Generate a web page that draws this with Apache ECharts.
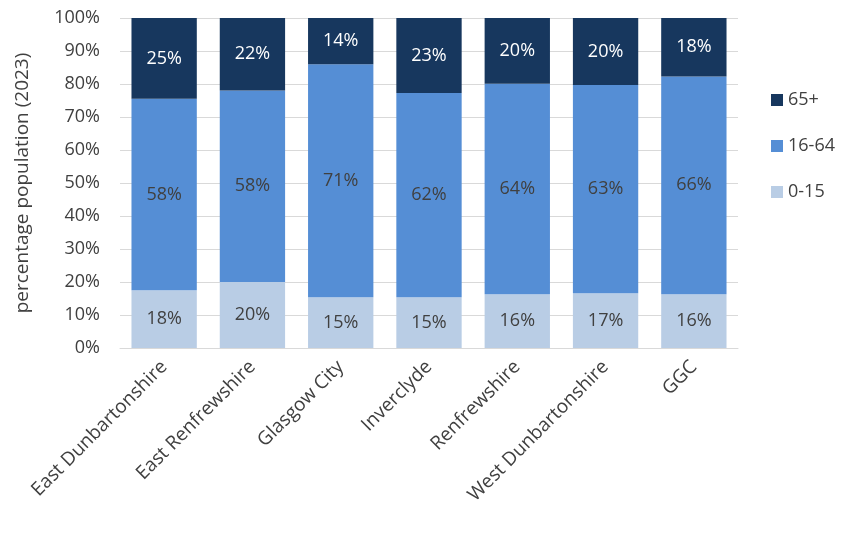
<!DOCTYPE html>
<html><head><meta charset="utf-8">
<script src="https://cdn.jsdelivr.net/npm/echarts@6/dist/echarts.min.js"></script>
<style>html,body{margin:0;background:#fff}#c{width:843px;height:534px}</style>
</head><body><div id="c"></div>
<script>
var areas = ['East Dunbartonshire','East Renfrewshire','Glasgow City','Inverclyde','Renfrewshire','West Dunbartonshire','GGC'];
var age0_15 = [17.5, 20.0, 15.4, 15.4, 16.3, 16.6, 16.3];
var age16_64 = [58.0, 58.0, 70.6, 61.9, 63.8, 63.1, 66.0];
var age65 = [24.5, 22.0, 14.0, 22.7, 19.9, 20.3, 17.7];
var yTicks = [0,10,20,30,40,50,60,70,80,90,100];

var myChart = echarts.init(document.getElementById('c'));
function lbl(color) {
    return {show: true, color: color, fontSize: 18, fontFamily: 'Open Sans',
        formatter: function (p) { return Math.round(p.value) + '%'; }};
}
var option = {
    animation: false,
    grid: {left: 120, right: 105, top: 18, bottom: 186},
    legend: {
        orient: 'vertical', left: 766, top: 86, itemGap: 28,
        itemWidth: 12, itemHeight: 12, icon: 'rect',
        textStyle: {fontSize: 18, color: '#404040', fontFamily: 'Open Sans'},
        data: ['65+','16-64','0-15']
    },
    xAxis: {
        type: 'category', data: areas,
        axisTick: {show: false},
        axisLine: {lineStyle: {color: '#d9d9d9'}},
        axisLabel: {rotate: 45, interval: 0, fontSize: 19, color: '#404040', fontFamily: 'Open Sans', margin: 16}
    },
    yAxis: {
        type: 'value', min: 0, max: 100, interval: 10,
        name: 'percentage population (2023)', nameLocation: 'middle', nameGap: 88,
        nameTextStyle: {fontSize: 19, color: '#404040', fontFamily: 'Open Sans'},
        axisLabel: {fontSize: 18, color: '#404040', fontFamily: 'Open Sans', margin: 20,
            formatter: function (v) { return yTicks.indexOf(v) >= 0 ? v + '%' : ''; }},
        splitLine: {lineStyle: {color: '#d9d9d9'}}
    },
    series: [
        {name: '0-15', type: 'bar', stack: 'a', barWidth: '74%', data: age0_15,
         itemStyle: {color: '#b9cde5'}, label: lbl('#404040')},
        {name: '16-64', type: 'bar', stack: 'a', data: age16_64,
         itemStyle: {color: '#558ed5'}, label: lbl('#404040')},
        {name: '65+', type: 'bar', stack: 'a', data: age65,
         itemStyle: {color: '#17375e'}, label: lbl('#ffffff')}
    ]
};
myChart.setOption(option, true);
</script></body></html>
